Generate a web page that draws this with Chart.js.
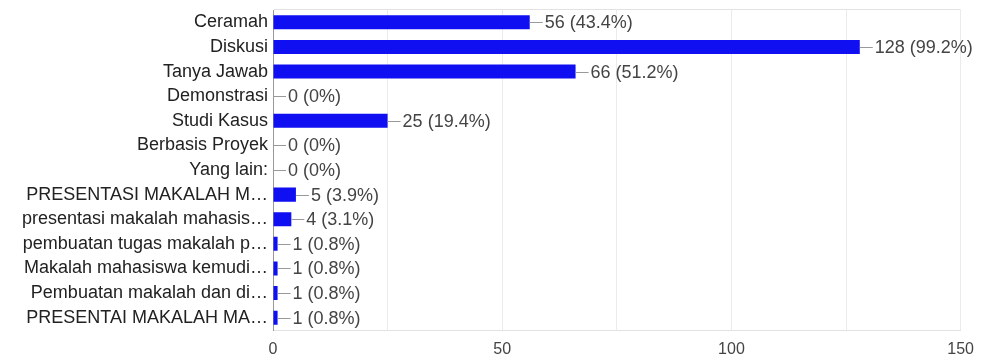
<!DOCTYPE html>
<html>
<head>
<meta charset="utf-8">
<script src="https://cdn.jsdelivr.net/npm/chart.js@4"></script>
<style>
  html, body { margin: 0; padding: 0; background: #fff; }
  #wrap { width: 984px; height: 360px; }
</style>
</head>
<body>
<div id="wrap"><canvas id="c"></canvas></div>
<script>
const categories = [
  'Ceramah', 'Diskusi', 'Tanya Jawab', 'Demonstrasi', 'Studi Kasus',
  'Berbasis Proyek', 'Yang lain:', 'PRESENTASI MAKALAH M…',
  'presentasi makalah mahasis…', 'pembuatan tugas makalah p…',
  'Makalah mahasiswa kemudi…', 'Pembuatan makalah dan di…', 'PRESENTAI MAKALAH MA…'
];
const counts = [56, 128, 66, 0, 25, 0, 0, 5, 4, 1, 1, 1, 1];
const percents = ['43.4%', '99.2%', '51.2%', '0%', '19.4%', '0%', '0%', '3.9%', '3.1%', '0.8%', '0.8%', '0.8%', '0.8%'];
const xMax = 150;
const xStep = 25;

const FONT = '"Liberation Sans", Arial, sans-serif';

// "—56 (43.4%)" style labels next to each bar
const valueLabels = {
  id: 'valueLabels',
  afterDatasetsDraw(chart) {
    const ctx = chart.ctx;
    const meta = chart.getDatasetMeta(0);
    ctx.save();
    ctx.font = '18px ' + FONT;
    ctx.textBaseline = 'middle';
    meta.data.forEach((bar, i) => {
      const x = bar.x, y = bar.y;
      ctx.strokeStyle = '#999';
      ctx.lineWidth = 1;
      ctx.beginPath();
      ctx.moveTo(x, Math.round(y) + 0.5);
      ctx.lineTo(x + 13, Math.round(y) + 0.5);
      ctx.stroke();
      ctx.fillStyle = '#444';
      ctx.fillText(counts[i] + ' (' + percents[i] + ')', x + 15, y + 1);
    });
    ctx.restore();
  }
};

new Chart(document.getElementById('c'), {
  type: 'bar',
  data: {
    labels: categories,
    datasets: [{
      data: counts,
      backgroundColor: '#0f0ff2',
      borderWidth: 0,
      barPercentage: 0.57,
      categoryPercentage: 1,
    }],
  },
  options: {
    indexAxis: 'y',
    responsive: true,
    maintainAspectRatio: false,
    animation: false,
    layout: { padding: { top: 10, right: 21, bottom: 0, left: 0 } },
    plugins: { legend: { display: false }, tooltip: { enabled: false } },
    scales: {
      x: {
        min: 0,
        max: xMax,
        grid: {
          color: c => (c.tick && c.tick.value === 0 ? '#999' : '#ebebeb'),
          drawTicks: false,
        },
        border: { color: '#e2e2e2' },
        afterFit: s => { s.height = 30; },
        ticks: {
          stepSize: xStep,
          padding: 10,
          color: '#444',
          font: { family: FONT, size: 16 },
          callback: v => (v % 50 === 0 ? v : ''),
          maxRotation: 0,
        },
      },
      y: {
        grid: {
          color: c => (c.index === 0 ? '#e2e2e2' : 'rgba(0,0,0,0)'),
          drawTicks: false,
        },
        border: { color: '#999' },
        afterFit: s => { s.width = 273; s.paddingTop = 0; s.paddingBottom = 0; },
        ticks: {
          autoSkip: false,
          padding: 5,
          color: '#222',
          font: { family: FONT, size: 18, lineHeight: 1 },
        },
      },
    },
  },
  plugins: [valueLabels],
});
</script>
</body>
</html>
